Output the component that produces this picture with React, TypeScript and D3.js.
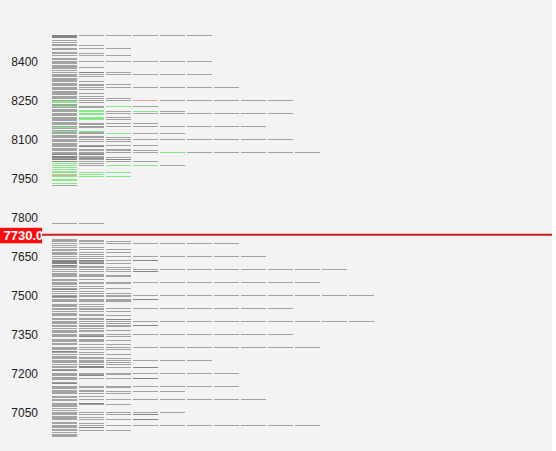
import React from "react";
import * as d3 from "d3";

// ---- data ----
const upperPrices = [
  8500, 8495, 8490, 8480, 8470, 8465, 8460, 8450, 8445, 8435, 8430, 8420, 8410, 8405,
  8400, 8395, 8390, 8385, 8380, 8375, 8370, 8365, 8355, 8350, 8345, 8340, 8335, 8330,
  8325, 8320, 8315, 8310, 8305, 8300, 8295, 8290, 8285, 8280, 8275, 8270, 8265, 8260,
  8255, 8250, 8245, 8240, 8235, 8230, 8225, 8220, 8215, 8210, 8205, 8200, 8195, 8190,
  8185, 8180, 8175, 8170, 8165, 8160, 8155, 8150, 8145, 8140, 8135, 8130, 8125, 8120,
  8115, 8110, 8105, 8100, 8095, 8090, 8085, 8080, 8075, 8070, 8065, 8060, 8055, 8050,
  8045, 8040, 8035, 8030, 8025, 8020, 8015, 8005, 8000, 7990, 7985, 7975, 7970, 7965,
  7960, 7955, 7945, 7940, 7930, 7920, 7775,
];
const upperProfiles = [
  "daaaaa", "d", "d", "a", "a", "a", "aa", "aaa", "a", "a", "aa", "aaa", "a", "a",
  "aaaaaa", "a", "a", "a", "a", "aa", "a", "a", "ada", "aaaaaa", "a", "aa", "a", "a",
  "a", "aa", "a", "aaa", "aa", "aaaaaaa", "a", "aa", "a", "a", "aa", "a", "aa", "a",
  "aaa", "aaaraaaaa", "g", "ga", "a", "a", "gaga", "aa", "a", "ag", "agaga", "agaaaaaaa", "ag", "a",
  "aga", "ag", "aga", "a", "a", "aaaa", "aa", "aaaaaaaa", "ga", "a", "a", "gg", "aa", "aagaa",
  "a", "aa", "aaa", "aaaaaaaaa", "a", "aaa", "a", "a", "aaaa", "ad", "a", "aaa", "aaaa", "aaaagaaaaa",
  "aa", "dd", "da", "daa", "ad", "dad", "daaa", "ga", "gagga", "g", "g", "g", "ggg", "gg",
  "r", "ggg", "g", "g", "g", "a", "aa",
];

const lowerPrices = [
  7715, 7710, 7705, 7700, 7690, 7685, 7675, 7670, 7665, 7660, 7655, 7650, 7640, 7635,
  7630, 7625, 7620, 7615, 7610, 7605, 7600, 7590, 7585, 7580, 7575, 7570, 7560, 7555,
  7550, 7545, 7540, 7535, 7525, 7520, 7515, 7505, 7500, 7495, 7490, 7485, 7480, 7475,
  7465, 7460, 7455, 7450, 7445, 7435, 7430, 7425, 7420, 7410, 7405, 7400, 7395, 7390,
  7385, 7380, 7370, 7365, 7360, 7355, 7350, 7345, 7340, 7330, 7325, 7320, 7315, 7310,
  7300, 7295, 7290, 7285, 7280, 7270, 7265, 7260, 7255, 7250, 7245, 7240, 7235, 7225,
  7220, 7215, 7210, 7200, 7195, 7190, 7185, 7180, 7175, 7165, 7160, 7150, 7145, 7140,
  7135, 7130, 7125, 7120, 7110, 7105, 7100, 7095, 7085, 7080, 7075, 7070, 7065, 7055,
  7050, 7045, 7040, 7035, 7030, 7025, 7020, 7010, 7005, 7000, 6995, 6990, 6985, 6980,
  6970, 6965, 6960, 6955,
];
const lowerProfiles = [
  "a", "aa", "aaa", "aaaaaaa", "a", "aa", "aaa", "a", "aaa", "a", "aa", "aaaaaaaa", "aa", "ddad",
  "da", "da", "dda", "d", "aa", "aaa", "aaaaaaaaaaa", "aaad", "a", "aa", "aaa", "aaa", "aa", "a",
  "aaaaaaaaaa", "aaa", "a", "aa", "aaa", "d", "aa", "aaa", "aaaaaaaaaaaa", "daa", "a", "aaad", "aaa", "aaa",
  "aa", "a", "aa", "aaaaaaaaa", "aa", "aaa", "a", "aa", "aaa", "aa", "aad", "aaaaaaaaaaaa", "a", "aaa",
  "aaad", "aaa", "aa", "aaa", "aa", "a", "aaaaaaaaa", "aa", "ada", "aa", "aaa", "aa", "a", "aaa",
  "aaaaaaaaaa", "a", "aaa", "d", "aa", "aaa", "a", "aa", "aaa", "aaaaaa", "aa", "aaa", "aaa", "ad",
  "adad", "a", "d", "aaaaaaa", "aaa", "ad", "a", "aaad", "a", "a", "d", "aaaaaaa", "aaa", "a",
  "aa", "aaaaa", "a", "aaa", "aa", "a", "aaaaaaaa", "a", "ad", "aaa", "a", "a", "a", "a",
  "aaaaa", "a", "aaad", "a", "aa", "a", "aaad", "a", "aa", "aaaaaaaaaa", "a", "ad", "a", "aaa",
  "a", "a", "a", "a",
];

const tickValues = [8400, 8250, 8100, 7950, 7800, 7650, 7500, 7350, 7200, 7050];
const lastPrice = 7730;
const lastPriceLabel = "7730.0";

const colorMap: Record<string, string> = {
  a: "#a3a3a3",
  d: "#858585",
  g: "#86e886",
  r: "#e9a3a3",
};

export default function App() {
  const W = 556;
  const H = 451;
  const y = d3.scaleLinear().domain([6950, 8500]).range([437.6, 34.6]);
  const x = d3.scaleLinear().domain([0, 12]).range([52, 52 + 27 * 12]);
  const cellW = 25;

  const rows = [
    ...upperPrices.map((p, i) => ({ p, prof: upperProfiles[i] })),
    ...lowerPrices.map((p, i) => ({ p, prof: lowerProfiles[i] })),
  ];

  const cells: { key: string; x: number; y: number; c: string }[] = [];
  rows.forEach((r) => {
    r.prof.split("").forEach((ch, k) => {
      cells.push({ key: `${r.p}-${k}`, x: x(k), y: Math.round(y(r.p)), c: colorMap[ch] });
    });
  });

  const ly = y(lastPrice);

  return (
    <svg
      width={W}
      height={H}
      style={{ position: "absolute", left: 0, top: 0, display: "block" }}
      fontFamily="'Liberation Sans', Arial, sans-serif"
    >
      <rect x={0} y={0} width={552} height={H} fill="#f3f3f3" />
      <g shapeRendering="crispEdges">
        {cells.map((c) => (
          <rect key={c.key} x={c.x} y={c.y} width={cellW} height={1} fill={c.c} />
        ))}
      </g>
      {tickValues.map((t) => (
        <text
          key={t}
          x={38}
          y={y(t) + 1.6}
          textAnchor="end"
          dominantBaseline="central"
          fontSize={12}
          fill="#222"
        >
          {t}
        </text>
      ))}
      <line x1={0} x2={552} y1={ly} y2={ly} stroke="#c8201f" strokeWidth={2} />
      <clipPath id="lblclip">
        <rect x={0} y={ly - 7} width={42} height={15.5} />
      </clipPath>
      <rect x={0} y={ly - 7} width={42} height={15.5} fill="#ff0a0a" />
      <text
        x={3.5}
        y={ly + 1}
        dominantBaseline="central"
        fontSize={13}
        fontWeight="bold"
        fill="#ffffff"
        clipPath="url(#lblclip)"
      >
        {lastPriceLabel}
      </text>
    </svg>
  );
}
